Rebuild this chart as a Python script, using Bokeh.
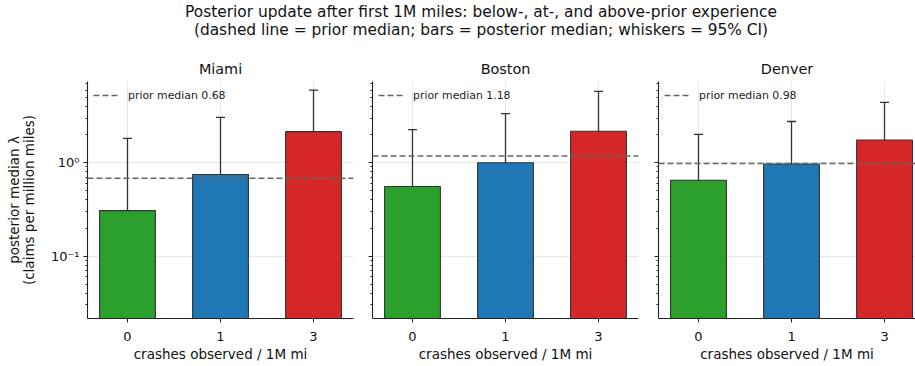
from bokeh.plotting import figure
from bokeh.models import (ColumnDataSource, Range1d, FixedTicker, Whisker, TeeHead,
                          Span, Legend, LegendItem, Div)
from bokeh.layouts import column, row
from bokeh.embed import file_html
from bokeh.resources import INLINE

# ---------------- data ----------------
title_line1 = "Posterior update after first 1M miles: below-, at-, and above-prior experience"
title_line2 = "(dashed line = prior median; bars = posterior median; whiskers = 95% CI)"
cities = ["Miami", "Boston", "Denver"]
crash_labels = ["0", "1", "3"]
prior_median = [0.68, 1.18, 0.98]

miami_median = [0.307, 0.748, 2.15]
miami_ci_low = [0.0283, 0.110, 0.538]
miami_ci_high = [1.82, 3.05, 5.99]

boston_median = [0.556, 1.00, 2.17]
boston_ci_low = [0.089, 0.216, 0.651]
boston_ci_high = [2.26, 3.36, 5.80]

denver_median = [0.65, 0.968, 1.75]
denver_ci_low = [0.161, 0.269, 0.590]
denver_ci_high = [2.01, 2.76, 4.42]

bar_colors = ["#2ca02c", "#1f77b4", "#d62728"]
y_ticks = [0.1, 1.0]
y_tick_labels = ["10\u207b\u00b9", "10\u2070"]
x_label = "crashes observed / 1M mi"
y_label = "posterior median \u03bb\n(claims per million miles)"

medians = [miami_median, boston_median, denver_median]
lows = [miami_ci_low, boston_ci_low, denver_ci_low]
highs = [miami_ci_high, boston_ci_high, denver_ci_high]

# ---------------- styling / layout ----------------
FONT = "DejaVu Sans"
AX = "#222222"
widths = [363, 286, 266]
left_b = [87, 9, 9]
right_b = [10, 11, 0]
x_end = [2.43, 2.43, 2.333]
H = 311
minor = [m * 10.0 ** e for e in (-2, -1, 0) for m in range(2, 10)]

y_range = Range1d(0.0215, 7.4)
panels = []
for i, city in enumerate(cities):
    xs = list(range(len(crash_labels)))
    src = ColumnDataSource(dict(x=xs, med=medians[i], lo=lows[i], hi=highs[i],
                                color=bar_colors, lab=crash_labels))
    p = figure(width=widths[i], height=H, x_range=Range1d(-0.43, x_end[i]), y_range=y_range,
               y_axis_type="log", output_backend="svg", toolbar_location=None,
               min_border_left=left_b[i], min_border_right=right_b[i],
               min_border_top=28, min_border_bottom=46)
    p.outline_line_color = None
    p.background_fill_color = "white"
    p.border_fill_color = "white"

    p.title.text = city
    p.title.align = "center"
    p.title.text_font = FONT
    p.title.text_font_size = "14.4px"
    p.title.text_font_style = "normal"
    p.title.text_color = "#111111"
    p.title.standoff = 9

    # grid
    p.xgrid.ticker = FixedTicker(ticks=xs)
    p.ygrid.ticker = FixedTicker(ticks=y_ticks)
    for g in (p.xgrid, p.ygrid):
        g.grid_line_color = "#b0b0b0"
        g.grid_line_alpha = 0.3
        g.grid_line_width = 1

    # bars
    p.vbar(x="x", top="med", bottom=1e-4, width=0.6, fill_color="color",
           line_color="#333333", line_width=1.1, source=src)

    # whiskers
    wc = "#333333"
    w = Whisker(source=src, base="x", upper="hi", lower="lo",
                line_color=wc, line_width=1.3,
                upper_head=TeeHead(size=9, line_color=wc, line_width=1.3),
                lower_head=TeeHead(size=9, line_color=wc, line_width=1.3))
    p.add_layout(w)

    # prior median line
    p.add_layout(Span(location=prior_median[i], dimension="width", line_color="#666666",
                      line_dash="6 3", line_width=1.5))
    dummy = p.line(x=xs[:1], y=prior_median[i:i + 1], line_color="#666666",
                   line_dash="6 3", line_width=1.5)
    leg = Legend(items=[LegendItem(label="prior median %.2f" % prior_median[i], renderers=[dummy])],
                 location="top_left", border_line_color=None, background_fill_alpha=0,
                 label_text_font=FONT, label_text_font_size="10.9px", label_text_color="#222222",
                 glyph_width=27, glyph_height=16, label_standoff=8, padding=6, margin=6,
                 spacing=0, label_height=16)
    p.add_layout(leg)

    # x axis
    xa = p.xaxis[0]
    xa.ticker = FixedTicker(ticks=xs)
    xa.major_label_overrides = {x: lab for x, lab in zip(xs, crash_labels)}
    xa.axis_label = x_label
    xa.axis_label_text_font = FONT
    xa.axis_label_text_font_size = "13.5px"
    xa.axis_label_text_font_style = "normal"
    xa.axis_label_text_color = "#111111"
    xa.axis_label_standoff = 2
    xa.major_label_text_font = FONT
    xa.major_label_text_font_size = "13px"
    xa.major_label_text_color = "#111111"
    xa.major_label_standoff = 9

    # y axis
    ya = p.yaxis[0]
    ya.ticker = FixedTicker(ticks=y_ticks, minor_ticks=minor)
    ya.major_label_text_font = FONT
    ya.major_label_text_font_size = "13px"
    ya.major_label_text_color = "#111111"
    if i == 0:
        ya.major_label_overrides = {t: l for t, l in zip(y_ticks, y_tick_labels)}
        ya.major_label_standoff = 4
        ya.axis_label = y_label
        ya.axis_label_text_font = FONT
        ya.axis_label_text_font_size = "13.5px"
        ya.axis_label_text_font_style = "normal"
        ya.axis_label_text_color = "#111111"
        ya.axis_label_text_line_height = 0.9
        ya.axis_label_standoff = 11
    else:
        ya.major_label_overrides = {t: "" for t in y_ticks}
        ya.major_label_standoff = 0

    for a in (xa, ya):
        a.axis_line_color = AX
        a.axis_line_width = 1.1
        a.major_tick_line_color = AX
        a.minor_tick_line_color = AX
        a.major_tick_in = 0
        a.major_tick_out = 4
        a.minor_tick_in = 0
        a.minor_tick_out = 2
    panels.append(p)

title_div = Div(text=(
    '<div style="font-family:\'DejaVu Sans\'; font-size:15.4px; line-height:18px; color:#111;'
    ' text-align:center; width:868px; margin-left:47px; padding-top:3px; white-space:nowrap;">'
    + title_line1 + '<br>' + title_line2 + '</div>'),
    width=915, height=53, margin=(0, 0, 0, 0))

layout = column(title_div, row(*panels, spacing=0), spacing=0)

open("out.html", "w").write(file_html(layout, INLINE, title="Posterior update"))
